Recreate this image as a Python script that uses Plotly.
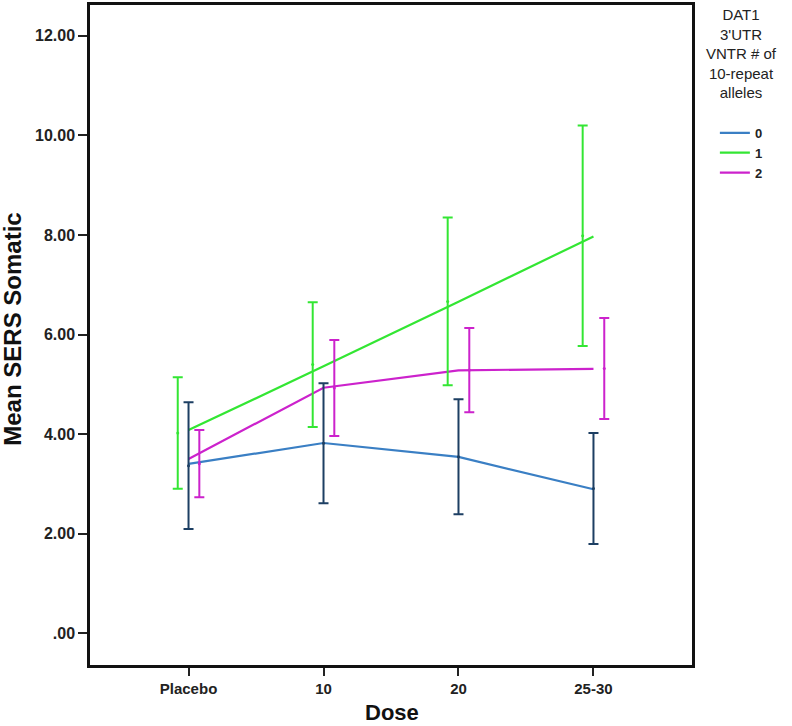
import plotly.graph_objects as go

categories = ["Placebo", "10", "20", "25-30"]
groups = ["0", "1", "2"]
colors = {"0": "#3a7fc4", "1": "#33e633", "2": "#cc22cc"}
bar_colors = {"0": "#1d3f63", "1": "#33e633", "2": "#cc22cc"}
offsets = {"0": 0.0, "1": -0.08, "2": 0.08}

mean_0 = [3.40, 3.82, 3.54, 2.89]
mean_1 = [4.08, 5.36, 6.66, 7.97]
mean_2 = [3.50, 4.93, 5.28, 5.31]

low_0 = [2.09, 2.61, 2.39, 1.79]
high_0 = [4.64, 5.02, 4.70, 4.02]
low_1 = [2.90, 4.14, 4.98, 5.77]
high_1 = [5.14, 6.65, 8.35, 10.20]
low_2 = [2.73, 3.96, 4.44, 4.30]
high_2 = [4.08, 5.89, 6.13, 6.33]

yticks = [0, 2, 4, 6, 8, 10, 12]
yticktext = [".00", "2.00", "4.00", "6.00", "8.00", "10.00", "12.00"]
legend_title_lines = ["DAT1", "3'UTR", "VNTR # of", "10-repeat", "alleles"]

means = {"0": mean_0, "1": mean_1, "2": mean_2}
lows = {"0": low_0, "1": low_1, "2": low_2}
highs = {"0": high_0, "1": high_1, "2": high_2}

fig = go.Figure()
xs = list(range(len(categories)))
for g in groups:
    fig.add_trace(go.Scatter(
        x=xs, y=means[g], mode="lines", name=g,
        line=dict(color=colors[g], width=2.2),
    ))
for g in groups:
    mid = [(lo + hi) / 2 for lo, hi in zip(lows[g], highs[g])]
    fig.add_trace(go.Scatter(
        x=[x + offsets[g] for x in xs], y=mid, mode="markers",
        marker=dict(size=3, color=bar_colors[g]),
        showlegend=False, hoverinfo="skip",
        error_y=dict(type="data", symmetric=False,
                     array=[hi - md for hi, md in zip(highs[g], mid)],
                     arrayminus=[md - lo for lo, md in zip(lows[g], mid)],
                     color=bar_colors[g], thickness=2, width=5),
    ))

font = "Liberation Sans, Arial, sans-serif"
annotations = [
    dict(text="Mean SERS Somatic", xref="paper", yref="paper", x=0, y=0.508,
         xshift=-77, xanchor="center", yanchor="middle", textangle=-90, showarrow=False,
         font=dict(size=24, family=font, color="#111", weight="bold")),
    dict(text="Dose", xref="paper", yref="paper", x=0.5017, y=0, yshift=-47,
         xanchor="center", yanchor="middle", showarrow=False,
         font=dict(size=22, family=font, color="#111", weight="bold")),
    dict(text="<br>".join(legend_title_lines), xref="paper", yref="paper",
         x=1.0814, y=0.926, xanchor="center", yanchor="middle", align="center",
         showarrow=False, font=dict(size=15, family=font, color="#222")),
]

fig.update_layout(
    width=792, height=726,
    margin=dict(l=90, r=100, t=5, b=61, autoexpand=False),
    paper_bgcolor="white", plot_bgcolor="white",
    font=dict(family=font, color="#222"),
    annotations=annotations,
    xaxis=dict(
        range=[-0.73, 3.73], tickvals=xs, ticktext=categories,
        showgrid=False, zeroline=False, automargin=False,
        showline=True, linecolor="#111", linewidth=2.5, mirror=True,
        ticks="outside", ticklen=8, tickwidth=2, tickcolor="#222",
        tickfont=dict(size=15, family=font, color="#222", weight="bold"),
    ),
    yaxis=dict(
        range=[-0.64, 12.62], tickvals=yticks, ticktext=yticktext,
        showgrid=False, zeroline=False, automargin=False,
        showline=True, linecolor="#111", linewidth=2.5, mirror=True,
        ticks="outside", ticklen=9, tickwidth=2, tickcolor="#222",
        tickfont=dict(size=16, family=font, color="#222", weight="bold"),
    ),
    legend=dict(
        x=1.038, xanchor="left", y=0.829, yanchor="top",
        font=dict(size=13, family=font, color="#222", weight="bold"),
        itemwidth=30, tracegroupgap=0, bgcolor="rgba(0,0,0,0)",
    ),
)

fig.write_html("out.html", config={"displayModeBar": False},
               post_script="document.body.style.margin='0';")
